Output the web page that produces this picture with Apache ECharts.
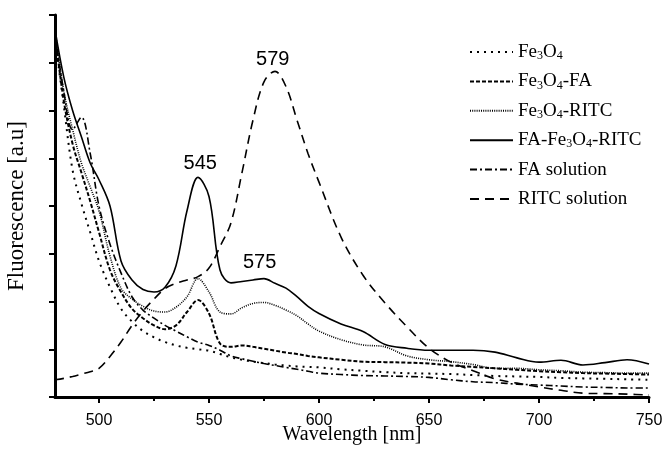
<!DOCTYPE html>
<html>
<head>
<meta charset="utf-8">
<script src="https://cdn.jsdelivr.net/npm/echarts@6/dist/echarts.min.js"></script>
<style>
    html, body { margin: 0; padding: 0; background: #fff; }
    #chart { width: 668px; height: 452px; }
</style>
</head>
<body>
<div id="chart"></div>
<script>
// wavelength grid (nm)
var wavelength = [480, 484, 488, 492, 496, 500, 505, 510, 515, 520, 525, 530, 535, 540, 545, 550, 555, 560, 565, 570,
    575, 580, 585, 590, 595, 600, 610, 620, 630, 640, 650, 660, 670, 680, 690, 700, 710, 720, 730, 740, 750];

var fe3o4 = [7.5, 6.1, 4.75, 4.05, 3.45, 2.85, 2.3, 1.85, 1.58, 1.38, 1.25, 1.15, 1.08, 1.03, 1.0, 0.97, 0.9, 0.83, 0.78, 0.74,
    0.71, 0.68, 0.66, 0.64, 0.63, 0.62, 0.58, 0.55, 0.52, 0.5, 0.49, 0.48, 0.46, 0.44, 0.43, 0.42, 0.4, 0.39, 0.38, 0.37, 0.36];
var fe3o4FA = [7.6, 6.2, 5.3, 4.7, 4.1, 3.45, 2.66, 2.2, 1.85, 1.65, 1.5, 1.42, 1.5, 1.78, 2.03, 1.75, 1.12, 1.05, 1.08, 1.05,
    1.01, 0.97, 0.93, 0.9, 0.86, 0.83, 0.78, 0.74, 0.73, 0.72, 0.7, 0.66, 0.63, 0.6, 0.57, 0.54, 0.52, 0.5, 0.49, 0.48, 0.47];
var fe3o4RITC = [7.7, 6.4, 5.6, 4.9, 4.4, 3.9, 2.95, 2.28, 2.05, 1.9, 1.8, 1.78, 1.88, 2.1, 2.48, 2.2, 1.78, 1.74, 1.87, 1.96,
    1.98, 1.92, 1.82, 1.7, 1.53, 1.38, 1.2, 1.09, 1.05, 0.86, 0.78, 0.74, 0.68, 0.6, 0.6, 0.57, 0.55, 0.52, 0.51, 0.5, 0.5];
var faFe3o4RITC = [7.7, 6.7, 6.0, 5.45, 4.9, 4.55, 4.0, 2.85, 2.45, 2.25, 2.2, 2.3, 2.75, 3.9, 4.6, 4.2, 2.66, 2.39, 2.42, 2.45,
    2.48, 2.38, 2.28, 2.1, 1.9, 1.75, 1.53, 1.37, 1.1, 1.02, 0.98, 0.98, 0.98, 0.94, 0.82, 0.73, 0.77, 0.67, 0.72, 0.78, 0.69];
var faSolution = [7.6, 6.4, 5.6, 5.86, 5.1, 4.0, 3.2, 2.6, 2.1, 1.82, 1.65, 1.5, 1.38, 1.26, 1.15, 1.08, 0.98, 0.86, 0.8, 0.75,
    0.7, 0.66, 0.62, 0.58, 0.54, 0.5, 0.47, 0.45, 0.44, 0.43, 0.41, 0.36, 0.32, 0.3, 0.27, 0.25, 0.23, 0.21, 0.2, 0.19, 0.19];
var ritcSolution = [0.36, 0.39, 0.43, 0.48, 0.53, 0.6, 0.85, 1.15, 1.5, 1.8, 2.05, 2.27, 2.38, 2.45, 2.52, 2.7, 3.15, 3.65, 4.7, 5.8,
    6.6, 6.82, 6.5, 5.8, 5.1, 4.5, 3.35, 2.55, 1.97, 1.47, 1.02, 0.73, 0.55, 0.38, 0.29, 0.21, 0.14, 0.08, 0.07, 0.06, 0.04];

var xTicks = [500, 550, 600, 650, 700, 750];
var xMinorTicks = [525, 575, 625, 675, 725];

// peak annotations: text, wavelength, level
var peakNotes = [
    ['545', 546, 4.9],
    ['575', 573, 2.81],
    ['579', 579, 7.06]
];

var legendText = {
    'Fe3O4': 'Fe{s|3}O{s|4}',
    'Fe3O4-FA': 'Fe{s|3}O{s|4}-FA',
    'Fe3O4-RITC': 'Fe{s|3}O{s|4}-RITC',
    'FA-Fe3O4-RITC': 'FA-Fe{s|3}O{s|4}-RITC',
    'FA solution': 'FA solution',
    'RITC solution': 'RITC solution'
};

function pairs(vals) {
    return wavelength.map(function (w, i) {
        return [w, vals[i]];
    });
}

function line(name, vals, width, dash) {
    return {
        name: name,
        type: 'line',
        data: pairs(vals),
        smooth: 0.35,
        symbol: 'none',
        lineStyle: {color: '#000', width: width, type: dash},
        itemStyle: {color: '#000'},
        z: 3
    };
}

var series = [
    line('Fe3O4', fe3o4, 2, [2, 5]),
    line('Fe3O4-FA', fe3o4FA, 2, [4, 2]),
    line('Fe3O4-RITC', fe3o4RITC, 1.6, [1, 1.2]),
    line('FA-Fe3O4-RITC', faFe3o4RITC, 1.6, 'solid'),
    line('FA solution', faSolution, 1.6, [7, 3, 2, 3]),
    line('RITC solution', ritcSolution, 1.6, [9, 6])
];

series[3].markPoint = {
    symbol: 'circle',
    symbolSize: 0,
    silent: true,
    label: {
        show: true,
        position: 'inside',
        color: '#000',
        fontFamily: 'Liberation Sans',
        fontSize: 20,
        formatter: function (p) { return p.name; }
    },
    data: peakNotes.map(function (n) {
        return {name: n[0], coord: [n[1], n[2]]};
    })
};

var myChart = echarts.init(document.getElementById('chart'), null, {renderer: 'canvas'});

myChart.setOption({
    backgroundColor: '#fff',
    animation: false,
    grid: {left: 55, right: 19, top: 15, bottom: 55, outerBoundsMode: 'none', containLabel: false},
    legend: {
        orient: 'vertical',
        left: 464,
        top: 37,
        itemWidth: 43,
        itemHeight: 14,
        itemGap: 9.4,
        data: series.map(function (s) { return s.name; }),
        formatter: function (name) { return legendText[name]; },
        itemStyle: {color: 'transparent', borderColor: 'transparent', borderWidth: 0, opacity: 0},
        textStyle: {
            color: '#000',
            fontFamily: 'Liberation Serif',
            fontSize: 19,
            lineHeight: 20,
            rich: {
                s: {fontFamily: 'Liberation Serif', fontSize: 12, lineHeight: 20, verticalAlign: 'bottom'}
            }
        }
    },
    xAxis: [
        {
            type: 'value',
            min: 480,
            max: 750,
            name: 'Wavelength [nm]',
            nameLocation: 'middle',
            nameGap: 28,
            nameMoveOverlap: false,
            nameTextStyle: {color: '#000', fontFamily: 'Liberation Serif', fontSize: 20},
            axisLine: {show: true, onZero: false, lineStyle: {color: '#000', width: 3}},
            axisTick: {show: true, inside: false, length: 6, lineStyle: {color: '#000', width: 2}, customValues: xTicks},
            axisLabel: {color: '#000', fontFamily: 'Liberation Sans', fontSize: 16, margin: 16, customValues: xTicks},
            splitLine: {show: false}
        },
        {
            type: 'value',
            min: 480,
            max: 750,
            position: 'bottom',
            axisLine: {show: false},
            axisTick: {show: true, inside: false, length: 4, lineStyle: {color: '#000', width: 2}, customValues: xMinorTicks},
            axisLabel: {show: false},
            splitLine: {show: false}
        }
    ],
    yAxis: {
        type: 'value',
        min: 0,
        max: 8,
        interval: 1,
        name: 'Fluorescence [a.u]',
        nameLocation: 'middle',
        nameGap: 27,
        nameMoveOverlap: false,
        nameTextStyle: {color: '#000', fontFamily: 'Liberation Serif', fontSize: 23},
        axisLine: {show: true, lineStyle: {color: '#000', width: 3}},
        axisTick: {show: true, inside: false, length: 6, lineStyle: {color: '#000', width: 2}},
        axisLabel: {show: false},
        splitLine: {show: false}
    },
    series: series
});
</script>
</body>
</html>
